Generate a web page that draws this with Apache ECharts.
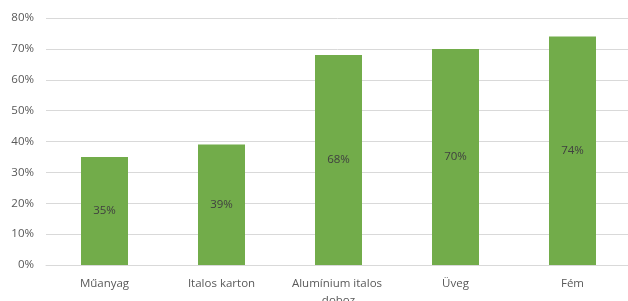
<!DOCTYPE html>
<html>
<head>
<meta charset="utf-8">
<script src="https://cdn.jsdelivr.net/npm/echarts@6/dist/echarts.min.js"></script>
<style>
html, body { margin: 0; padding: 0; background: #fff; }
#chart { width: 628px; height: 301px; }
</style>
</head>
<body>
<div id="chart"></div>
<script>
// Recycling rates by material
var categories = ['Műanyag', 'Italos karton', 'Alumínium italos doboz', 'Üveg', 'Fém'];
var rates = [35, 39, 68, 70, 74];
var yTicks = [0, 10, 20, 30, 40, 50, 60, 70, 80];

var myChart = echarts.init(document.getElementById('chart'));
var option = {
    animation: false,
    grid: {
        left: 46,
        right: -3,
        top: 18,
        bottom: 36,
        outerBoundsMode: 'none',
        containLabel: false
    },
    xAxis: {
        type: 'category',
        data: categories,
        axisTick: { show: false },
        axisLine: { lineStyle: { color: '#d9d9d9' } },
        axisLabel: {
            color: '#595959',
            fontFamily: 'Open Sans',
            fontSize: 11.5,
            margin: 10,
            width: 110,
            overflow: 'break',
            lineHeight: 17,
            interval: 0
        }
    },
    yAxis: {
        type: 'value',
        min: yTicks[0],
        max: yTicks[yTicks.length - 1],
        interval: 10,
        axisLine: { show: false },
        axisTick: { show: false },
        splitLine: { lineStyle: { color: '#d9d9d9' } },
        axisLabel: {
            color: '#595959',
            fontFamily: 'Open Sans',
            fontSize: 11.5,
            margin: 12,
            formatter: '{value}%'
        }
    },
    series: [
        {
            type: 'bar',
            data: rates,
            barWidth: 47,
            itemStyle: { color: '#72ac4a' },
            label: {
                show: true,
                position: 'inside',
                color: '#404040',
                fontFamily: 'Open Sans',
                fontSize: 11.5,
                formatter: '{c}%'
            }
        }
    ]
};
myChart.setOption(option, true);
</script>
</body>
</html>
